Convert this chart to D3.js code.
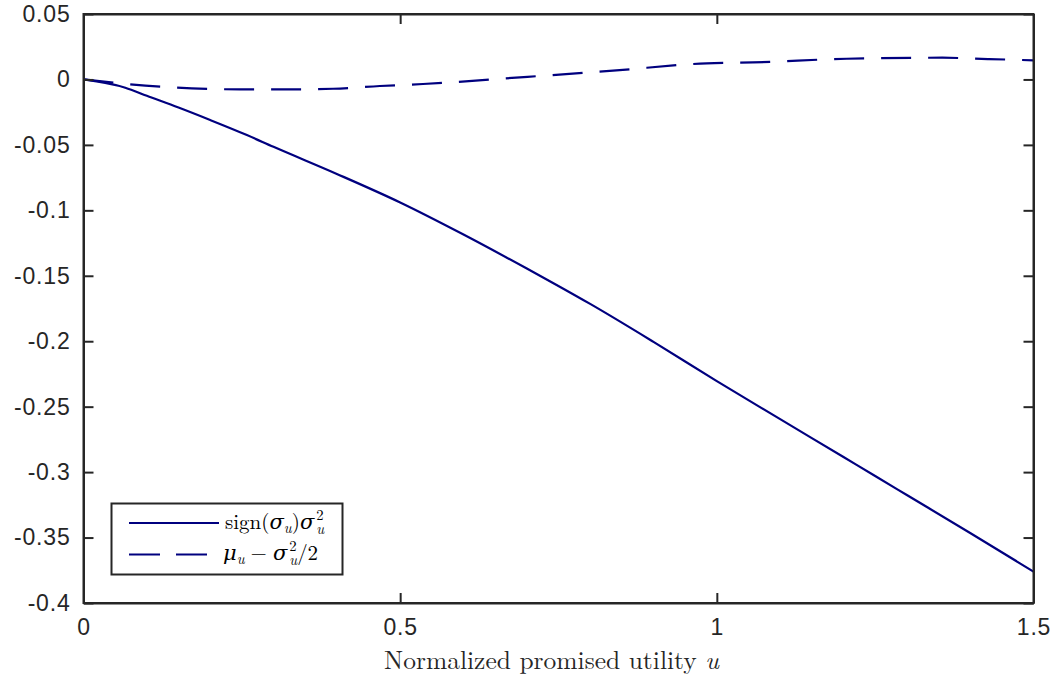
<!DOCTYPE html>
<html>
<head>
<meta charset="utf-8">
<script src="https://cdn.jsdelivr.net/npm/d3@7"></script>
<style>
  html, body { margin: 0; padding: 0; background: #fff; }
  svg { display: block; }
  text { white-space: pre; }
</style>
</head>
<body>
<svg id="chart" width="1059" height="681"></svg>
<script>
// Promised utility grid and the two diffusion terms
const uGrid = [0, 0.066, 0.1, 0.15, 0.2, 0.258, 0.3, 0.4, 0.5, 0.6, 0.7, 0.747, 0.8, 0.9, 1.0, 1.1, 1.2, 1.25, 1.3, 1.4, 1.5];
const signedVariance = [0, -0.0063, -0.0125, -0.0215, -0.031, -0.0425, -0.0515, -0.0722, -0.094, -0.1185, -0.1445, -0.157, -0.1715, -0.2005, -0.2305, -0.2595, -0.2885, -0.303, -0.3175, -0.3465, -0.376];

const uDrift = [0, 0.073, 0.171, 0.247, 0.318, 0.394, 0.468, 0.536, 0.689, 0.836, 0.984, 1.057, 1.205, 1.356, 1.428, 1.5];
const logDrift = [0, -0.0037, -0.0068, -0.0076, -0.0076, -0.0071, -0.005, -0.0035, 0.0016, 0.0067, 0.0123, 0.013, 0.0158, 0.0166, 0.0156, 0.0146];

const xTicks = [0, 0.5, 1, 1.5];
const xTickLabels = ["0", "0.5", "1", "1.5"];
const yTicks = [0.05, 0, -0.05, -0.1, -0.15, -0.2, -0.25, -0.3, -0.35, -0.4];
const yTickLabels = ["0.05", "0", "-0.05", "-0.1", "-0.15", "-0.2", "-0.25", "-0.3", "-0.35", "-0.4"];

const lineColor = "#00007f";
const axisColor = "#262626";

const svg = d3.select("#chart");
const plot = { left: 83.5, right: 1033.5, top: 14, bottom: 603 };

const x = d3.scaleLinear().domain([0, 1.5]).range([plot.left, plot.right]);
const y = d3.scaleLinear().domain([-0.4, 0.05]).range([plot.bottom, plot.top]);

// Curves
const line = d3.line().x(d => x(d[0])).y(d => y(d[1])).curve(d3.curveMonotoneX);

svg.append("path")
  .datum(uGrid.map((u, i) => [u, signedVariance[i]]))
  .attr("d", line)
  .attr("fill", "none")
  .attr("stroke", lineColor)
  .attr("stroke-width", 2.2);

svg.append("path")
  .datum(uDrift.map((u, i) => [u, logDrift[i]]))
  .attr("d", line)
  .attr("fill", "none")
  .attr("stroke", lineColor)
  .attr("stroke-width", 2.2)
  .attr("stroke-dasharray", "30,17");

// Axes with inward ticks on all four sides
const tickLen = 10;
const tickFont = "'Liberation Sans', Arial, Helvetica, sans-serif";

const bottomAxis = d3.axisBottom(x).tickValues(xTicks).tickSizeInner(-tickLen).tickSizeOuter(0)
  .tickPadding(16).tickFormat((d, i) => xTickLabels[i]);
const topAxis = d3.axisTop(x).tickValues(xTicks).tickSizeInner(-tickLen).tickSizeOuter(0).tickFormat("");
const leftAxis = d3.axisLeft(y).tickValues(yTicks).tickSizeInner(-tickLen).tickSizeOuter(0)
  .tickPadding(13).tickFormat((d, i) => yTickLabels[i]);
const rightAxis = d3.axisRight(y).tickValues(yTicks).tickSizeInner(-tickLen).tickSizeOuter(0).tickFormat("");

function styleAxis(g) {
  g.select(".domain").attr("stroke", axisColor).attr("stroke-width", 2);
  g.selectAll(".tick line").attr("stroke", axisColor).attr("stroke-width", 2);
  g.selectAll(".tick text").attr("fill", "#262626")
    .style("font-family", tickFont).style("font-size", "23px").style("letter-spacing", "0.8px");
}

svg.append("g").attr("transform", `translate(0,${plot.bottom})`).call(bottomAxis).call(styleAxis)
  .selectAll(".tick text").attr("dy", "0.71em");
svg.append("g").attr("transform", `translate(0,${plot.top})`).call(topAxis).call(styleAxis);
svg.append("g").attr("transform", `translate(${plot.left},0)`).call(leftAxis).call(styleAxis);
svg.append("g").attr("transform", `translate(${plot.right},0)`).call(rightAxis).call(styleAxis);

// Frame
svg.append("rect")
  .attr("x", plot.left).attr("y", plot.top)
  .attr("width", plot.right - plot.left).attr("height", plot.bottom - plot.top)
  .attr("fill", "none").attr("stroke", axisColor).attr("stroke-width", 2);

// Axis title
const serif = "'Latin Modern Roman', 'CMU Serif', 'DejaVu Serif', serif";
const title = svg.append("text")
  .attr("x", (plot.left + plot.right) / 2 - 7)
  .attr("y", 669)
  .attr("text-anchor", "middle")
  .style("font-family", serif)
  .style("font-size", "25.5px")
  .attr("fill", "#262626");
title.append("tspan").text("Normalized promised utility ");
title.append("tspan").style("font-style", "italic").text("u");

// Math label builder: one text element per label, tspans placed left to
// right; a piece with `stack` holds a superscript and subscript at one x.
function mathLabel(g, x0, baseline, pieces, size) {
  const t = g.append("text")
    .attr("x", x0)
    .attr("y", baseline)
    .style("font-family", serif)
    .style("font-size", size + "px")
    .attr("fill", "#000");
  let cx = x0;
  pieces.forEach(p => {
    const px = cx + (p.gap || 0);
    const parts = p.stack || [p];
    let w = 0;
    parts.forEach(q => {
      const fs = size * (q.script ? 0.7 : 1);
      const s = t.append("tspan")
        .attr("x", px)
        .attr("y", baseline + (q.shift || 0))
        .style("font-size", fs + "px")
        .style("font-style", q.italic ? "italic" : "normal")
        .text(q.t);
      w = Math.max(w, s.node().getComputedTextLength());
    });
    cx = px + w;
  });
}

// Legend
const legend = svg.append("g");
legend.append("rect")
  .attr("x", 111.5).attr("y", 503.5).attr("width", 231).attr("height", 71)
  .attr("fill", "#fff").attr("stroke", axisColor).attr("stroke-width", 2);

legend.append("line")
  .attr("x1", 129).attr("x2", 219).attr("y1", 523).attr("y2", 523)
  .attr("stroke", lineColor).attr("stroke-width", 2.2);
legend.append("line")
  .attr("x1", 129).attr("x2", 219).attr("y1", 554.5).attr("y2", 554.5)
  .attr("stroke", lineColor).attr("stroke-width", 2.2)
  .attr("stroke-dasharray", "31,16");

const sigmaSq = { gap: 2, stack: [
  { t: "2", script: true, shift: -9 },
  { t: "u", italic: true, script: true, shift: 5 }
] };

mathLabel(legend, 225, 529, [
  { t: "sign(" },
  { t: "σ", italic: true },
  { t: "u", italic: true, script: true, shift: 4 },
  { t: ")" },
  { t: "σ", italic: true },
  sigmaSq
], 21);

mathLabel(legend, 223, 560, [
  { t: "μ", italic: true },
  { t: "u", italic: true, script: true, shift: 4 },
  { t: "−", gap: 6 },
  { t: "σ", italic: true, gap: 6 },
  sigmaSq,
  { t: "/2" }
], 21);
</script>
</body>
</html>
